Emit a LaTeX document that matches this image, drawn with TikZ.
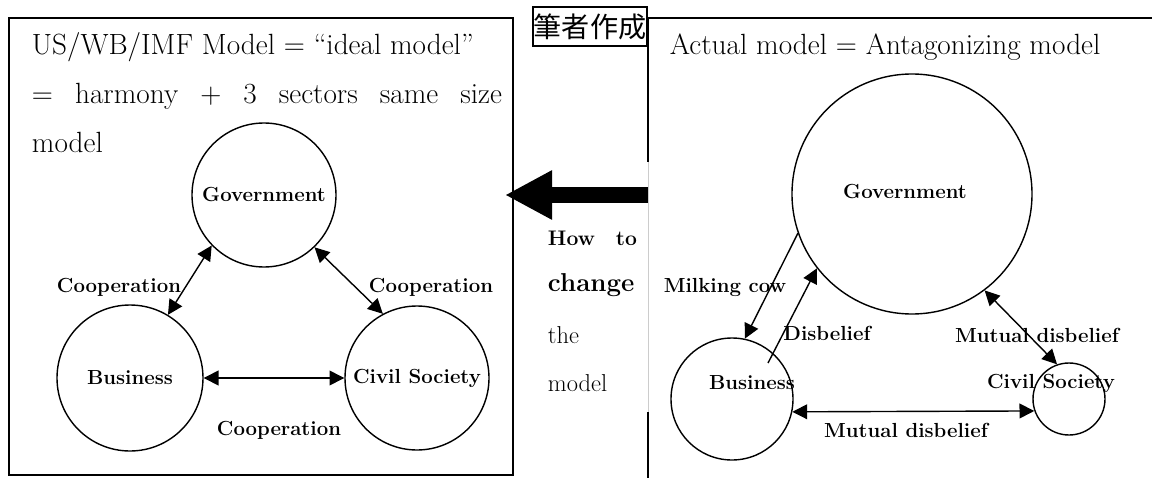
\documentclass[tikz,border=0pt]{standalone}
\usepackage{fontspec}
\newfontfamily\cjk{Noto Sans CJK JP}
\usetikzlibrary{arrows.meta}

\newcommand{\hdfont}{\fontsize{20.8}{24}\selectfont}
\newcommand{\secfont}{\fontsize{14.5}{17}\selectfont\bfseries}

\begin{document}
\begin{tikzpicture}[> = {Triangle[length=0.37cm, width=0.37cm]},
			sector/.style = {draw, circle, line width=1pt, inner sep=0pt, font=\secfont},
			lbl/.style = {font=\secfont},
			head/.style = {anchor=base west, font=\hdfont},
			link/.style = {line width=1pt},
			frame/.style = {line width=1.3pt}]
			\useasboundingbox (0,0) rectangle (28.8,-11.95);
			
			% the two frames
			\draw[frame] (0.225,-0.45) rectangle (12.825,-11.875);
			\draw[frame] (28.8,-0.45) -- (16.2,-0.45) -- (16.2,-4.05)
			(16.2,-10.3) -- (16.2,-11.95);
			\draw[black!20, line width=0.6pt] (16.2,-4.05) -- (16.2,-10.3);
			\node[draw, frame, inner sep=0pt, minimum width=2.85cm, minimum height=0.975cm,
			font=\cjk\fontsize{20}{20}\selectfont] (author) at (14.75,-0.6625) {筆者作成};
			
			% ideal model
			\node[head] (ideal1) at (0.675,-1.35) {US/WB/IMF Model = “ideal model”};
			\node[head] (ideal2) at (0.675,-2.575) {\makebox[11.75cm][s]{= harmony + 3 sectors same size}};
			\node[head] (ideal3) at (0.675,-3.8) {model};
			
			\node[sector, minimum size=3.6cm] (gov) at (6.6,-4.875) {Government};
			\node[sector, minimum size=3.65cm] (bus) at (3.25,-9.45) {Business};
			\node[sector, minimum size=3.6cm] (civ) at (10.425,-9.45) {Civil Society};
			
			\draw[link, <->] (gov.224) -- (bus.59);
			\draw[link, <->] (gov.314) -- (civ.118);
			\draw[link, <->] (bus.east) -- (civ.west);
			
			\node[lbl] (coop1) at (2.975,-7.175) {Cooperation};
			\node[lbl] (coop2) at (10.775,-7.175) {Cooperation};
			\node[lbl] (coop3) at (6.975,-10.75) {Cooperation};
			
			% big arrow between the models
			\coordinate (from) at (16.2,-4.875);
			\coordinate (to) at (12.625,-4.875);
			\draw[line width=0.4cm, -{Triangle[length=1.175cm, width=1.15cm]}] (from) -- (to);
			
			\node[anchor=west, font=\fontsize{15}{17}\selectfont\bfseries] (how) at (13.575,-5.95) {\makebox[2.225cm][s]{How to}};
			\node[anchor=west, font=\fontsize{18.4}{20}\selectfont\bfseries] (change) at (13.575,-7.125) {change};
			\node[anchor=west, font=\fontsize{17.4}{19}\selectfont] (the) at (13.575,-8.375) {the};
			\node[anchor=west, font=\fontsize{17.4}{19}\selectfont] (mdl) at (13.575,-9.575) {model};
			
			% actual model
			\node[head] (actual) at (16.625,-1.35) {Actual model = Antagonizing model};
			
			\node[sector, minimum size=6cm] (agov) at (22.8,-4.85) {};
			\node[sector, minimum size=3.05cm] (abus) at (18.3,-9.975) {};
			\node[sector, minimum size=1.8cm] (aciv) at (26.725,-9.975) {};
			\node[lbl] (agovtxt) at (22.625,-4.8) {Government};
			\node[lbl] (abustxt) at (18.8,-9.575) {Business};
			\node[lbl] (acivtxt) at (26.275,-9.575) {Civil Society};
			
			\coordinate (bs) at (19.2,-9.075);
			\draw[link, ->] (agov.199) -- (abus.78);
			\draw[link, ->] (bs) -- (agov.218);
			\draw[link, <->] (agov.307) -- (aciv.109);
			\draw[link, <->] (abus.348) -- (aciv.199);
			
			\node[lbl] (milk) at (18.125,-7.175) {Milking cow};
			\node[lbl] (disb) at (20.675,-8.325) {Disbelief};
			\node[lbl] (mut1) at (25.925,-8.375) {Mutual disbelief};
			\node[lbl] (mut2) at (22.65,-10.75) {Mutual disbelief};
		\end{tikzpicture}
\end{document}
